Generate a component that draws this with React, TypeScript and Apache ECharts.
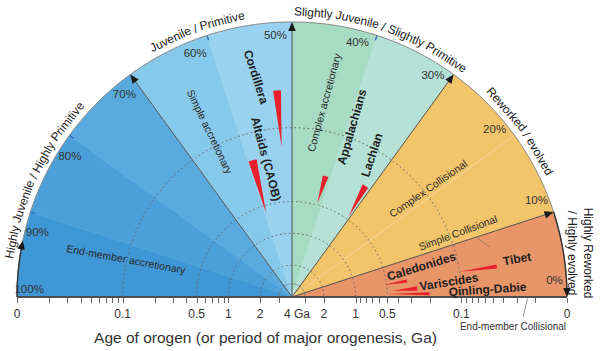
import React, { useEffect, useRef } from 'react';
import * as echarts from 'echarts';

const FONT = "'Liberation Sans', Arial, Helvetica, sans-serif";

// ---------- data ----------
// angular zones (percent of juvenile material, 100 at left, 0 at right)
const zoneStart = [100, 90, 80, 70, 60, 50, 40, 30, 10];
const zoneEnd = [90, 80, 70, 60, 50, 40, 30, 10, 0];
const zoneColors = ['#3f97d5', '#4ba0da', '#58aadf', '#87c9ea', '#98d2ef', '#a7dbc4', '#b5e1d6', '#f3c56b', '#e8956a'];

const mainDividers = [70, 50, 30, 10];
const subDividers = [90, 80, 60, 40];
const lightDividers = [20];
const percentTicks = [100, 90, 80, 70, 60, 50, 40, 30, 20, 10, 0];

// radial (age, Ga) scale: 4 Ga at centre, 0 (0.01) at rim
const AGE_EDGE = 0.01;
const AGE_CENTER = 4;
const LABEL_AGE = 0.013;
const ageRings = [0.1, 0.5, 1, 2];
const innerRing = [3];
const ageTicks = [0.01, 0.02, 0.03, 0.04, 0.05, 0.06, 0.07, 0.08, 0.09, 0.1, 0.2, 0.3, 0.4, 0.5, 0.6, 0.7, 0.8, 0.9, 1, 2, 3];
const ageLabelValues = [0.01, 0.1, 0.5, 1, 2];
const ageLabelTexts = ['0', '0.1', '0.5', '1', '2'];

const rangeArrowFrom = [100, 10];
const rangeArrowTo = [93.4, 0];

// orogens: wedge tip at older age, wide end at younger age
const orogenNames = ['Cordillera', 'Altaids (CAOB)', 'Appalachians', 'Lachlan', 'Caledonides', 'Variscides', 'Qinling-Dabie', 'Tibet'];
const orogenOldAge = [0.15, 0.59, 0.48, 0.47, 0.52, 0.44, 0.49, 0.1];
const orogenYoungAge = [0.044, 0.18, 0.26, 0.22, 0.32, 0.26, 0.2, 0.044];
const orogenTipPct = [52.2, 59.5, 41.6, 30.5, 4.2, 2.0, 1.0, 4.75];
const orogenLowPct = [51.7, 58.0, 40.6, 30.6, 3.9, 1.6, 0.4, 4.4];
const orogenHighPct = [52.9, 59.9, 42.1, 32.2, 4.8, 2.7, 1.1, 5.0];

const categoryNames = ['Highly Juvenile / Highly Primitive', 'Juvenile / Primitive', 'Slightly Juvenile / Slightly Primitive', 'Reworked / evolved'];
const categoryMidPct = [86, 60.9, 39.5, 20];

// ---------- layout ----------
const CX = 292;
const CY = 297;
const R = 275;
const TEXT_R = 285;

function arcPts(api: any, age: number, p1: number, p2: number) {
  const n = Math.max(2, Math.ceil(Math.abs(p2 - p1) * 2));
  const out: number[][] = [];
  for (let i = 0; i <= n; i++) out.push(api.coord([age, p1 + ((p2 - p1) * i) / n]));
  return out;
}

function unit(a: number[], b: number[]) {
  const dx = b[0] - a[0];
  const dy = b[1] - a[1];
  const L = Math.hypot(dx, dy) || 1;
  return [dx / L, dy / L];
}

function arrowHead(tip: number[], from: number[], len: number, half: number, color: string) {
  const u = unit(from, tip);
  const bx = tip[0] - u[0] * len;
  const by = tip[1] - u[1] * len;
  return {
    type: 'polygon',
    shape: { points: [tip, [bx - u[1] * half, by + u[0] * half], [bx + u[1] * half, by - u[0] * half]] },
    style: { fill: color },
  };
}

let measureCtx: CanvasRenderingContext2D | null = null;
function measure(text: string, size: number) {
  if (!measureCtx) measureCtx = document.createElement('canvas').getContext('2d');
  if (!measureCtx) return text.length * size * 0.5;
  measureCtx.font = `${size}px ${FONT}`;
  return measureCtx.measureText(text).width;
}

function arcWords(text: string, midPct: number, radius: number, size: number) {
  const words = text.split(' ');
  const space = measure(' ', size);
  const widths = words.map((w) => measure(w, size));
  const total = widths.reduce((a, b) => a + b, 0) + space * (words.length - 1);
  let s = -total / 2;
  const th0 = (midPct / 100) * Math.PI;
  return words.map((w, i) => {
    const sc = s + widths[i] / 2;
    s += widths[i] + space;
    const th = th0 - sc / radius;
    return {
      type: 'text',
      x: CX + radius * Math.cos(th),
      y: CY - radius * Math.sin(th),
      rotation: th - Math.PI / 2,
      silent: true,
      z: 100,
      style: { text: w, fontSize: size, fontFamily: FONT, fill: '#222', align: 'center', verticalAlign: 'middle' },
    };
  });
}

function label(text: string, x: number, y: number, rotDeg: number, size: number, bold: boolean, fill = '#222') {
  return {
    type: 'text',
    x,
    y,
    rotation: (rotDeg * Math.PI) / 180,
    silent: true,
    z: 100,
    style: {
      text,
      fontSize: size,
      fontFamily: FONT,
      fontWeight: bold ? 'bold' : 'normal',
      fill,
      align: 'center',
      verticalAlign: 'middle',
    },
  };
}

function buildOption(): any {
  let z = 1;
  const cs = (extra: any) => ({
    type: 'custom',
    coordinateSystem: 'polar',
    polarIndex: 0,
    silent: true,
    encode: { radius: 0, angle: 1 },
    z: z++,
    ...extra,
  });

  const series: any[] = [
    // zones
    cs({
      data: zoneStart.map((s, i) => [AGE_CENTER, s, zoneEnd[i]]),
      renderItem: (params: any, api: any) => {
        const p1 = api.value(1);
        const p2 = api.value(2);
        const c = api.coord([AGE_CENTER, p1]);
        const col = zoneColors[params.dataIndex];
        return {
          type: 'polygon',
          shape: { points: [c, ...arcPts(api, AGE_EDGE, p1, p2)] },
          style: { fill: col, stroke: col, lineWidth: 0.6 },
        };
      },
    }),
    // light divider
    cs({
      data: lightDividers.map((p) => [AGE_CENTER, p]),
      renderItem: (_p: any, api: any) => {
        const c = api.coord([AGE_CENTER, api.value(1)]);
        const t = api.coord([AGE_EDGE, api.value(1)]);
        return { type: 'line', shape: { x1: c[0], y1: c[1], x2: t[0], y2: t[1] }, style: { stroke: 'rgba(255,255,255,0.32)', lineWidth: 1 } };
      },
    }),
    // dotted age rings
    cs({
      data: ageRings.map((a) => [a, 50]),
      renderItem: (_p: any, api: any) => ({
        type: 'polyline',
        shape: { points: arcPts(api, api.value(0), 100, 0) },
        style: { stroke: '#666', lineWidth: 1, lineDash: [1.6, 2.8], fill: 'none' },
      }),
    }),
    // inner solid ring
    cs({
      data: innerRing.map((a) => [a, 50]),
      renderItem: (_p: any, api: any) => ({
        type: 'polyline',
        shape: { points: arcPts(api, api.value(0), 100, 0) },
        style: { stroke: '#777', lineWidth: 0.8, fill: 'none' },
      }),
    }),
    // small marks at sub dividers
    cs({
      data: subDividers.map((p) => [AGE_EDGE, p]),
      renderItem: (_p: any, api: any) => {
        const t = api.coord([AGE_EDGE, api.value(1)]);
        const c = api.coord([AGE_CENTER, api.value(1)]);
        const u = unit(t, c);
        return { type: 'line', shape: { x1: t[0], y1: t[1], x2: t[0] + u[0] * 5, y2: t[1] + u[1] * 5 }, style: { stroke: '#2c5fb5', lineWidth: 1.2 } };
      },
    }),
    // outer rim
    cs({
      data: [[AGE_EDGE, 50]],
      renderItem: (_p: any, api: any) => ({
        type: 'polyline',
        shape: { points: arcPts(api, AGE_EDGE, 100, 0) },
        style: { stroke: '#8c8c8c', lineWidth: 1, fill: 'none' },
      }),
    }),
    // main dividers with arrows
    cs({
      data: mainDividers.map((p) => [AGE_CENTER, p]),
      renderItem: (_p: any, api: any) => {
        const p = api.value(1);
        const c = api.coord([AGE_CENTER, p]);
        const t = api.coord([AGE_EDGE, p]);
        const u = unit(c, t);
        return {
          type: 'group',
          children: [
            { type: 'line', shape: { x1: c[0], y1: c[1], x2: t[0] - u[0] * 8, y2: t[1] - u[1] * 8 }, style: { stroke: '#555', lineWidth: 1 } },
            arrowHead(t, c, 9, 3.8, '#1a1a1a'),
          ],
        };
      },
    }),
    // range arrows along the rim
    cs({
      data: rangeArrowFrom.map((f, i) => [AGE_EDGE, f, rangeArrowTo[i]]),
      renderItem: (_p: any, api: any) => {
        const f = api.value(1);
        const t = api.value(2);
        const sgn = f > t ? 1 : -1;
        const tip = api.coord([AGE_EDGE, t]);
        const prev = api.coord([AGE_EDGE, t + sgn * 0.3]);
        return {
          type: 'group',
          children: [
            { type: 'polyline', shape: { points: arcPts(api, AGE_EDGE, f, t + sgn * 0.9) }, style: { stroke: '#333', lineWidth: 1.4, fill: 'none' } },
            arrowHead(tip, prev, 9, 3.8, '#1a1a1a'),
          ],
        };
      },
    }),
    // orogen wedges
    cs({
      data: orogenOldAge.map((a, i) => [a, orogenTipPct[i], orogenYoungAge[i], orogenLowPct[i], orogenHighPct[i]]),
      renderItem: (_p: any, api: any) => {
        const tip = api.coord([api.value(0), api.value(1)]);
        const b1 = api.coord([api.value(2), api.value(3)]);
        const b2 = api.coord([api.value(2), api.value(4)]);
        return { type: 'polygon', shape: { points: [tip, b1, b2] }, style: { fill: '#e8202a' } };
      },
    }),
    // baseline
    cs({
      data: [[AGE_EDGE, 100, 0]],
      renderItem: (_p: any, api: any) => {
        const a = api.coord([AGE_EDGE, api.value(1)]);
        const b = api.coord([AGE_EDGE, api.value(2)]);
        return { type: 'line', shape: { x1: a[0], y1: a[1], x2: b[0], y2: b[1] }, style: { stroke: '#4d4d4d', lineWidth: 2 } };
      },
    }),
    // age ticks (both halves)
    cs({
      data: [...ageTicks.map((a) => [a, 100]), ...ageTicks.map((a) => [a, 0])],
      renderItem: (_p: any, api: any) => {
        const pt = api.coord([api.value(0), api.value(1)]);
        const x = Math.round(pt[0]) + 0.5;
        return { type: 'line', shape: { x1: x, y1: pt[1] + 1, x2: x, y2: pt[1] + 6 }, style: { stroke: '#666', lineWidth: 1 } };
      },
    }),
    // age tick labels
    cs({
      data: [...ageLabelValues.map((a, i) => [a, 100, i]), ...ageLabelValues.map((a, i) => [a, 0, i])],
      renderItem: (_p: any, api: any) => {
        const pt = api.coord([api.value(0), api.value(1)]);
        return {
          type: 'text',
          x: pt[0],
          y: pt[1] + 17,
          style: { text: ageLabelTexts[api.value(2)], fontSize: 12, fontFamily: FONT, fill: '#333', align: 'center', verticalAlign: 'middle' },
        };
      },
    }),
    // centre label
    cs({
      data: [[AGE_CENTER, 0]],
      renderItem: (_p: any, api: any) => {
        const pt = api.coord([api.value(0), api.value(1)]);
        return {
          type: 'text',
          x: pt[0] + 5,
          y: pt[1] + 17,
          style: { text: '4 Ga', fontSize: 12, fontFamily: FONT, fill: '#333', align: 'center', verticalAlign: 'middle' },
        };
      },
    }),
    // percent labels
    cs({
      data: percentTicks.map((p) => [LABEL_AGE, Math.min(p + 2, 99), p]),
      renderItem: (_p: any, api: any) => {
        const pt = api.coord([api.value(0), api.value(1)]);
        return {
          type: 'text',
          x: pt[0],
          y: pt[1],
          style: { text: `${api.value(2)}%`, fontSize: 11.5, fontFamily: FONT, fill: '#333', align: 'center', verticalAlign: 'middle' },
        };
      },
    }),
  ];

  const orogenLabelPlaces: [number, number, number][] = [
    [256, 77, -72],
    [266, 159, -75],
    [352, 127, 74],
    [372, 155, 72],
    [421.5, 266.5, 17],
    [449, 282, 9],
    [487.5, 289.5, 4],
    [517, 259, 10],
  ];

  const graphics: any[] = [
    ...categoryNames.flatMap((t, i) => arcWords(t, categoryMidPct[i], TEXT_R, 12)),
    {
      type: 'text',
      x: 580,
      y: 253,
      rotation: -Math.PI / 2,
      silent: true,
      z: 100,
      style: {
        text: 'Highly Reworked\n/ Highly evolved',
        fontSize: 12,
        lineHeight: 16,
        fontFamily: FONT,
        fill: '#222',
        align: 'center',
        verticalAlign: 'middle',
      },
    },
    ...orogenNames.map((n, i) => label(n, orogenLabelPlaces[i][0], orogenLabelPlaces[i][1], orogenLabelPlaces[i][2], 12, true, '#1e1e1e')),
    label('End-member accretionary', 126, 259, -10.4, 10.5, false, '#2a2a2a'),
    label('Simple accretionary', 210, 131.5, -64.3, 10.5, false, '#2a2a2a'),
    label('Complex accretionary', 324, 102.5, 74.7, 10.5, false, '#2a2a2a'),
    label('Complex Collisional', 428, 188.5, 34.8, 10.5, false, '#2a2a2a'),
    label('Simple Collisional', 458, 232.5, 20.3, 10.5, false, '#2a2a2a'),
    label('End-member Collisional', 513, 326, 0, 10, false, '#333'),
    { type: 'line', silent: true, z: 100, shape: { x1: 477, y1: 238, x2: 490, y2: 247 }, style: { stroke: '#9a6f55', lineWidth: 0.8 } },
    { type: 'line', silent: true, z: 100, shape: { x1: 527.5, y1: 298.5, x2: 523, y2: 317 }, style: { stroke: '#777', lineWidth: 0.8 } },
    label('Age of orogen (or period of major orogenesis, Ga)', 265.5, 337, 0, 15.5, false, '#333'),
  ];

  return {
    animation: false,
    backgroundColor: '#ffffff',
    polar: { center: [CX, CY], radius: [0, R] },
    angleAxis: {
      type: 'value',
      min: 0,
      max: 200,
      startAngle: 0,
      clockwise: false,
      show: false,
    },
    radiusAxis: {
      type: 'log',
      min: AGE_EDGE,
      max: AGE_CENTER,
      inverse: true,
      show: false,
    },
    series,
    graphic: { elements: graphics },
  };
}

export default function App() {
  const ref = useRef<HTMLDivElement>(null);
  useEffect(() => {
    document.body.style.margin = '0';
    if (!ref.current) return;
    const chart = echarts.init(ref.current, null, { renderer: 'svg' });
    chart.setOption(buildOption());
    return () => chart.dispose();
  }, []);
  return (
    <div
      ref={ref}
      style={{ position: 'absolute', left: 0, top: 0, width: 600, height: 351, background: '#fff' }}
    />
  );
}
